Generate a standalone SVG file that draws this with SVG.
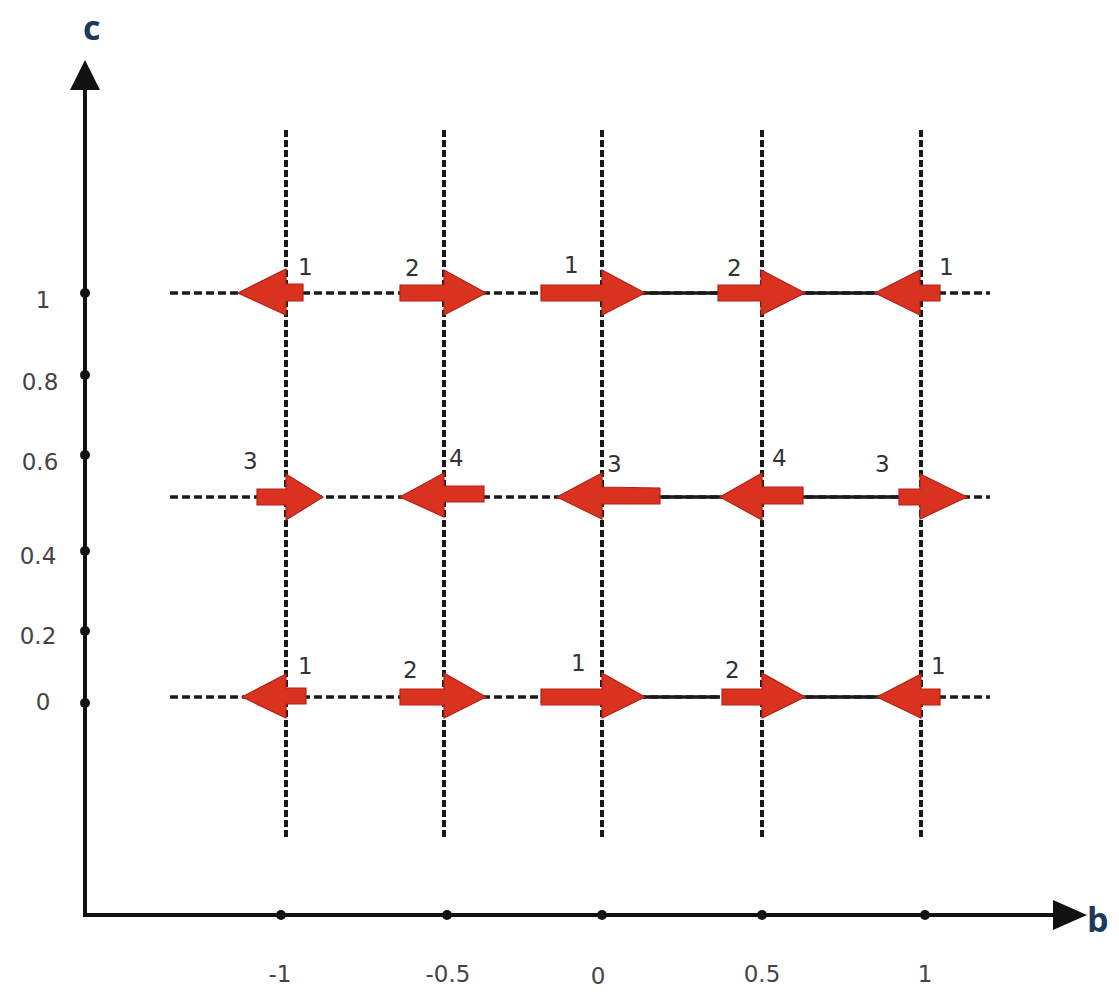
<svg xmlns="http://www.w3.org/2000/svg" width="1119" height="993" viewBox="0 0 1119 993">
<style>
.grid{stroke:#1a1a1a;stroke-width:4;stroke-dasharray:7 3;fill:none}
.hgrid{stroke:#1a1a1a;stroke-width:3.5;stroke-dasharray:8 4;fill:none}
.solid{stroke:#1a1a1a;stroke-width:3.5;fill:none}
.axis{stroke:#111;stroke-width:4;fill:none}
.arr{fill:#d9321f;stroke:#b22318;stroke-width:1.2}
.lbl{font-family:"DejaVu Sans",sans-serif;font-size:23px;fill:#333}
.tick{font-family:"DejaVu Sans",sans-serif;font-size:23px;fill:#444}
.ax{font-family:"Open Sans","DejaVu Sans",sans-serif;font-size:34px;font-weight:bold;fill:#1e3a5a}
.dot{fill:#111}
</style>
<rect width="1119" height="993" fill="#fff"/>
<g id="grid">
<line class="grid" x1="286" y1="130" x2="286" y2="840"/>
<line class="grid" x1="444" y1="130" x2="444" y2="840"/>
<line class="grid" x1="602" y1="130" x2="602" y2="840"/>
<line class="grid" x1="762" y1="130" x2="762" y2="840"/>
<line class="grid" x1="921" y1="130" x2="921" y2="840"/>
<line class="hgrid" x1="170" y1="293" x2="990" y2="293"/>
<line class="hgrid" x1="170" y1="497" x2="990" y2="497"/>
<line class="hgrid" x1="170" y1="697" x2="990" y2="697"/>
</g>
<g id="connectors">
<line class="solid" x1="640" y1="293" x2="720" y2="293"/>
<line class="solid" x1="800" y1="293" x2="880" y2="293"/>
<line class="solid" x1="655" y1="497" x2="725" y2="497"/>
<line class="solid" x1="800" y1="497" x2="900" y2="497"/>
<line class="solid" x1="640" y1="697" x2="720" y2="697"/>
<line class="solid" x1="800" y1="697" x2="880" y2="697"/>
</g>
<g id="axes">
<line class="axis" x1="85" y1="917" x2="85" y2="85"/>
<polygon points="85,60 70,90 100,90" fill="#111"/>
<line class="axis" x1="83" y1="915" x2="1055" y2="915"/>
<polygon points="1087,915 1053,900 1053,930" fill="#111"/>
<text class="ax" x="83" y="40">c</text>
<text class="ax" x="1087" y="932">b</text>
</g>
<g id="yticks">
<circle class="dot" cx="85" cy="293" r="5"/>
<circle class="dot" cx="85" cy="375" r="5"/>
<circle class="dot" cx="85" cy="455" r="5"/>
<circle class="dot" cx="85" cy="551" r="5"/>
<circle class="dot" cx="85" cy="631" r="5"/>
<circle class="dot" cx="85" cy="703" r="5"/>
<text class="tick" x="43" y="308" text-anchor="middle">1</text>
<text class="tick" x="40" y="390" text-anchor="middle">0.8</text>
<text class="tick" x="40" y="470" text-anchor="middle">0.6</text>
<text class="tick" x="38" y="564" text-anchor="middle">0.4</text>
<text class="tick" x="38" y="644" text-anchor="middle">0.2</text>
<text class="tick" x="43" y="710" text-anchor="middle">0</text>
</g>
<g id="xticks">
<circle class="dot" cx="281" cy="915" r="5"/>
<circle class="dot" cx="447" cy="915" r="5"/>
<circle class="dot" cx="602" cy="915" r="5"/>
<circle class="dot" cx="762" cy="915" r="5"/>
<circle class="dot" cx="925" cy="915" r="5"/>
<text class="tick" x="280" y="982" text-anchor="middle">-1</text>
<text class="tick" x="448" y="982" text-anchor="middle">-0.5</text>
<text class="tick" x="598" y="984" text-anchor="middle">0</text>
<text class="tick" x="762" y="982" text-anchor="middle">0.5</text>
<text class="tick" x="925" y="982" text-anchor="middle">1</text>
</g>
<g id="row-c1">
<path class="arr" d="M303,284 L286,284 L286,269 L238,293 L286,315 L286,301 L303,301 Z"/>
<path class="arr" d="M400,285 L444,285 L444,270 L486,293 L444,315 L444,301 L400,301 Z"/>
<path class="arr" d="M541,285 L602,285 L602,270 L645,293 L602,315 L602,301 L541,301 Z"/>
<path class="arr" d="M718,285 L761,285 L761,270 L805,293 L761,315 L761,301 L718,301 Z"/>
<path class="arr" d="M940,285 L920,285 L920,270 L875,293 L920,315 L920,301 L940,301 Z"/>
<text class="lbl" x="298" y="275">1</text>
<text class="lbl" x="405" y="276">2</text>
<text class="lbl" x="564" y="273">1</text>
<text class="lbl" x="727" y="276">2</text>
<text class="lbl" x="939" y="275">1</text>
</g>
<g id="row-c05">
<path class="arr" d="M257,489 L286,489 L286,474 L323,497 L286,520 L286,505 L257,505 Z"/>
<path class="arr" d="M484,486 L444,486 L444,473 L400,497 L444,517 L444,502 L484,502 Z"/>
<path class="arr" d="M660,488 L602,487 L602,473 L557,497 L602,519 L602,504 L660,504 Z"/>
<path class="arr" d="M803,487 L762,487 L762,473 L720,497 L762,520 L762,504 L803,504 Z"/>
<path class="arr" d="M899,489 L920,489 L920,474 L967,497 L920,519 L920,505 L899,505 Z"/>
<text class="lbl" x="243" y="469">3</text>
<text class="lbl" x="449" y="466">4</text>
<text class="lbl" x="607" y="472">3</text>
<text class="lbl" x="772" y="466">4</text>
<text class="lbl" x="875" y="472">3</text>
</g>
<g id="row-c0">
<path class="arr" d="M306,688 L286,688 L286,674 L242,697 L286,718 L286,704 L306,704 Z"/>
<path class="arr" d="M400,689 L444,689 L444,673 L486,697 L444,718 L444,705 L400,705 Z"/>
<path class="arr" d="M541,689 L602,689 L602,673 L645,697 L602,718 L602,705 L541,705 Z"/>
<path class="arr" d="M722,689 L762,689 L762,673 L805,697 L762,718 L762,705 L722,705 Z"/>
<path class="arr" d="M940,689 L921,689 L921,674 L877,697 L921,718 L921,705 L940,705 Z"/>
<text class="lbl" x="298" y="674">1</text>
<text class="lbl" x="403" y="678">2</text>
<text class="lbl" x="571" y="671">1</text>
<text class="lbl" x="725" y="678">2</text>
<text class="lbl" x="931" y="674">1</text>
</g>
</svg>
